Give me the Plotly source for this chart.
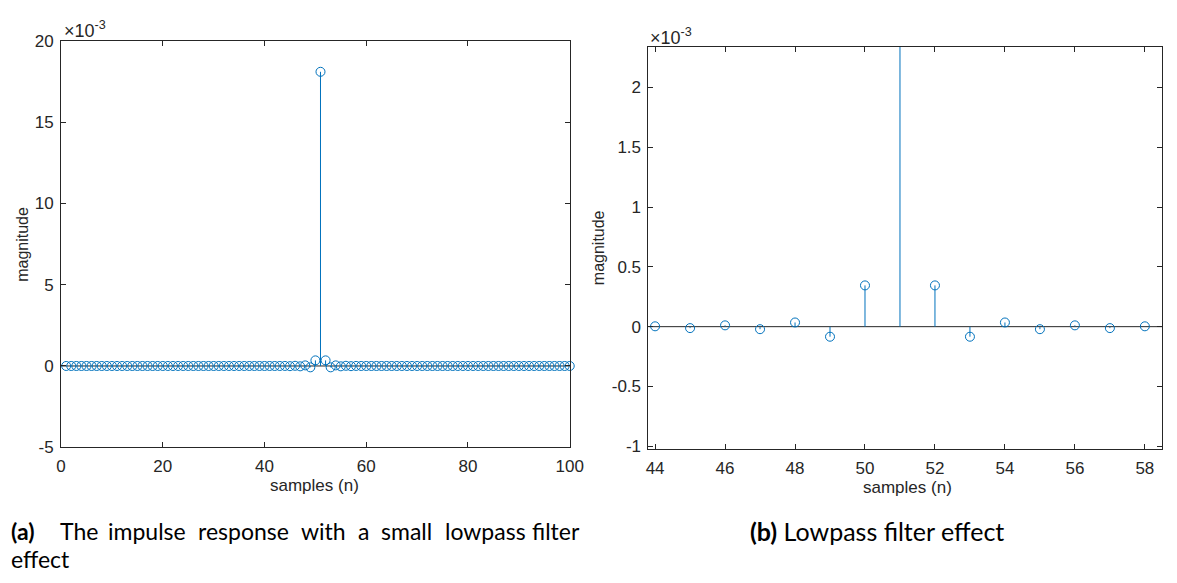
import plotly.graph_objects as go

# ---------------- data (magnitude in units of 1e-3) ----------------
n_samples = list(range(1, 101))
h_milli = [
    0.0, 0.0, 0.0, 0.0, 0.0, 0.0, 0.0, 0.0, 0.0, 0.0,      # 1-10
    0.0, 0.0, 0.0, 0.0, 0.0, 0.0, 0.0, 0.0, 0.0, 0.0,      # 11-20
    0.0, 0.0, 0.0, 0.0, 0.0, 0.0, 0.0, 0.0, 0.0, 0.0,      # 21-30
    0.0, 0.0, 0.0, 0.0, 0.0, 0.0, 0.0, 0.0, 0.0, 0.0,      # 31-40
    0.0, 0.0, 0.0,                                         # 41-43
    0.003, -0.012, 0.011, -0.021, 0.035, -0.084, 0.345,    # 44-50
    18.1,                                                  # 51
    0.345, -0.084, 0.035, -0.021, 0.011, -0.012, 0.003,    # 52-58
    0.0, 0.0,                                              # 59-60
    0.0, 0.0, 0.0, 0.0, 0.0, 0.0, 0.0, 0.0, 0.0, 0.0,      # 61-70
    0.0, 0.0, 0.0, 0.0, 0.0, 0.0, 0.0, 0.0, 0.0, 0.0,      # 71-80
    0.0, 0.0, 0.0, 0.0, 0.0, 0.0, 0.0, 0.0, 0.0, 0.0,      # 81-90
    0.0, 0.0, 0.0, 0.0, 0.0, 0.0, 0.0, 0.0, 0.0, 0.0,      # 91-100
]

left_xticks = [0, 20, 40, 60, 80, 100]
left_yticks = [-5, 0, 5, 10, 15, 20]
right_xticks = [44, 46, 48, 50, 52, 54, 56, 58]
right_yticks = [-1, -0.5, 0, 0.5, 1, 1.5, 2]
right_yticklabels = ["-1", "-0.5", "0", "0.5", "1", "1.5", "2"]

caption_a_words = ["(a)", "The", "impulse", "response", "with", "a", "small", "lowpass", "filter"]
caption_a_line2 = "effect"
caption_b = "<b>(b)</b> Lowpass filter effect"

# ---------------- styling ----------------
W, H = 1177, 583
BLUE = "#0072BD"
AX = "#262626"
LABEL_FAMILY = "Liberation Sans, Arial, sans-serif"
TICKFONT = dict(family=LABEL_FAMILY, size=17, color=AX)
CAPFONT = "Lato, DejaVu Sans, sans-serif"


def px_x(p):
    return p / W


def px_y(p):
    return 1 - p / H


# stem line coordinates built from data
stem_x, stem_y = [], []
for n, v in zip(n_samples, h_milli):
    stem_x += [n, n, None]
    stem_y += [0, v, None]

fig = go.Figure()

for ax_suffix, clip in (("", False), ("2", True)):
    fig.add_trace(go.Scatter(
        x=stem_x, y=stem_y, mode="lines",
        line=dict(color=BLUE, width=1),
        xaxis="x" + ax_suffix, yaxis="y" + ax_suffix,
        hoverinfo="skip", showlegend=False,
    ))
    fig.add_trace(go.Scatter(
        x=n_samples, y=h_milli, mode="markers",
        marker=dict(symbol="circle-open", size=9, color=BLUE, line=dict(width=1, color=BLUE)),
        xaxis="x" + ax_suffix, yaxis="y" + ax_suffix,
        cliponaxis=clip, showlegend=False,
    ))

common_axis = dict(
    showline=True, linecolor=AX, linewidth=1, mirror="ticks",
    ticks="inside", ticklen=5, tickcolor=AX, tickwidth=1,
    showgrid=False, zeroline=False, tickfont=TICKFONT,
)

fig.update_layout(
    width=W, height=H, autosize=False,
    margin=dict(l=0, r=0, t=0, b=0),
    paper_bgcolor="white", plot_bgcolor="white",
    xaxis=dict(common_axis, domain=[px_x(57), px_x(574)], range=[0, 100],
               tickvals=left_xticks, ticktext=[str(t) for t in left_xticks],
               anchor="y", ticklabelstandoff=3),
    yaxis=dict(common_axis, domain=[px_y(453), px_y(33)], range=[-5, 20],
               tickvals=left_yticks, ticktext=[str(t) for t in left_yticks],
               anchor="x", ticklabelstandoff=3),
    xaxis2=dict(common_axis, domain=[px_x(654), px_x(1176)], range=[43.81, 58.49],
                tickvals=right_xticks, ticktext=[str(t) for t in right_xticks],
                anchor="y2", ticklabelstandoff=3),
    yaxis2=dict(common_axis, domain=[px_y(455), px_y(39)], range=[-1.024, 2.34],
                tickvals=right_yticks, ticktext=right_yticklabels,
                anchor="x2", ticklabelstandoff=3),
)

# stem baselines
for xr, yr in (("x domain", "y"), ("x2 domain", "y2")):
    fig.add_shape(type="line", xref=xr, yref=yr, x0=0, x1=1, y0=0, y1=0,
                  line=dict(color=AX, width=1), layer="below")

ann = []
# exponent labels
ann.append(dict(x=px_x(58), y=px_y(21), text="×10<sup>-3</sup>", xanchor="left", yanchor="middle", size=18))
ann.append(dict(x=px_x(654), y=px_y(28), text="×10<sup>-3</sup>", xanchor="left", yanchor="middle", size=18))
# axis titles
ann.append(dict(x=px_x(315), y=px_y(493), text="samples (n)", xanchor="center", yanchor="middle", size=17))
ann.append(dict(x=px_x(917), y=px_y(495), text="samples (n)", xanchor="center", yanchor="middle", size=17))
ann.append(dict(x=px_x(17), y=px_y(243), text="magnitude", textangle=-90, xanchor="center", yanchor="middle", size=16))
ann.append(dict(x=px_x(604), y=px_y(247), text="magnitude", textangle=-90, xanchor="center", yanchor="middle", size=16))
for a in ann:
    size = a.pop("size")
    a.update(xref="paper", yref="paper", showarrow=False,
             font=dict(family=LABEL_FAMILY, size=size, color=AX))
    fig.add_annotation(**a)

# caption (a): justified first line, word by word
word_left = [4, 54, 103, 194, 299, 357, 380, 445, 534]
for w, xl in zip(caption_a_words, word_left):
    txt = "<b>%s</b>" % w if w == "(a)" else w
    fig.add_annotation(x=px_x(xl), y=px_y(540), xref="paper", yref="paper",
                       text=txt, showarrow=False, xanchor="left", yanchor="middle",
                       font=dict(family=CAPFONT, size=23, color="black"))
fig.add_annotation(x=px_x(4), y=px_y(569), xref="paper", yref="paper",
                   text=caption_a_line2, showarrow=False, xanchor="left", yanchor="middle",
                   font=dict(family=CAPFONT, size=23, color="black"))
fig.add_annotation(x=px_x(886), y=px_y(540), xref="paper", yref="paper",
                   text=caption_b, showarrow=False, xanchor="center", yanchor="middle",
                   font=dict(family=CAPFONT, size=25, color="black"))

fig.write_html("out.html")
